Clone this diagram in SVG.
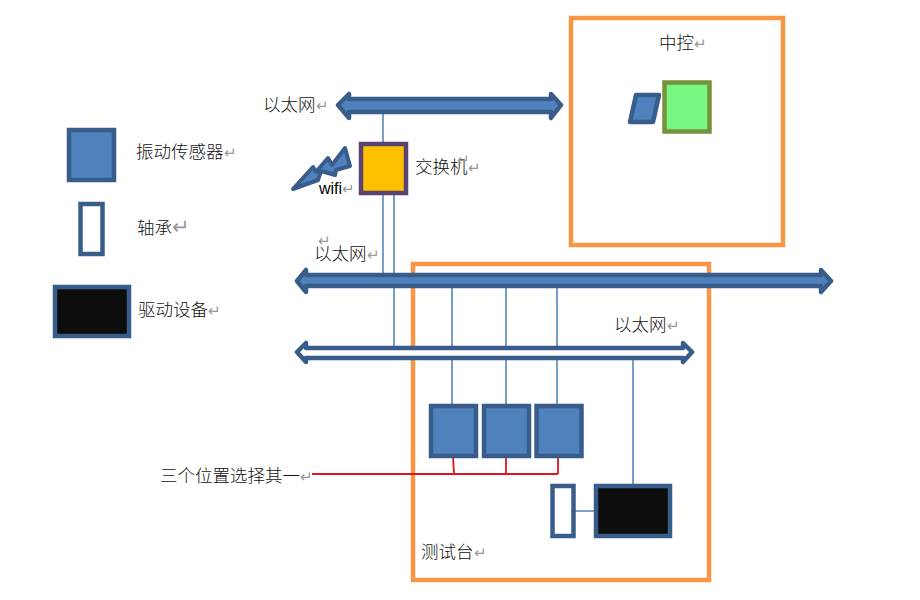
<svg xmlns="http://www.w3.org/2000/svg" width="920" height="600" viewBox="0 0 920 600">
<style>
text{font-family:"Noto Sans CJK SC","Noto Sans",sans-serif;font-size:17.5px;font-weight:300;fill:#111}
.pm{font-family:"DejaVu Sans",sans-serif;font-size:15px;fill:#999}
.zone{fill:none;stroke:#F79646;stroke-width:4.5}
.sensor{fill:#4F81BD;stroke:#385D8A;stroke-width:4.5}
.bearing{fill:#fff;stroke:#385D8A;stroke-width:4.5}
.drive{fill:#0D0D0D;stroke:#385D8A;stroke-width:4.5}
.bus{fill:#4F81BD;stroke:#385D8A;stroke-width:4.5;stroke-linejoin:round}
.hollow{fill:#fff;stroke:#385D8A;stroke-width:4.5;stroke-linejoin:round}
.link{fill:none;stroke:#5585BC;stroke-width:1.6}
.red{fill:none;stroke:#E0141E;stroke-width:1.8}
</style>
<rect width="920" height="600" fill="#fff"/>
<g id="zone-control"><rect class="zone" x="571" y="18" width="212" height="227"/></g>
<g id="zone-testbench"><rect class="zone" x="413" y="264" width="296" height="316"/></g>
<g id="connectors">
<path class="link" d="M383 112V144M383 193V275M394 193V348M452 286V406M506 286V406M557 286V406M633 358V486M574 511H596"/>
<path class="red" d="M312 474H558M453 456L454 474M506 456V474M558 456V474"/>
</g>
<g id="bus-top"><path class="bus" d="M338 105L349 94V99H551V94L561 105L551 118V112H349V118Z"/></g>
<g id="bus-mid"><path class="bus" d="M297 281L306 270V275H821V270L831 281L821 292V286H306V292Z"/></g>
<g id="bus-low"><path class="hollow" d="M297 352L306 343V348H683V343L692 352L683 362V358H306V362Z"/></g>
<g id="central"><path d="M636 95H659L653 122H630Z" fill="#4F81BD" stroke="#385D8A" stroke-width="4.5" stroke-linejoin="round"/><rect x="664.500" y="82.500" width="45" height="49" fill="#77F77F" stroke="#76923C" stroke-width="4.500"/></g>
<g id="wifi-bolt"><path d="M293 189L313 167L316 172L328 158L332 165L345 148L350 166L336 170L335 175L321 171L318 180Z" fill="#4F81BD" stroke="#385D8A" stroke-width="4" stroke-linejoin="round"/></g>
<g id="switch"><rect x="361" y="144" width="45" height="49" fill="#FFC000" stroke="#5A4372" stroke-width="4.500"/></g>
<g id="sensor-1"><rect class="sensor" x="431" y="406" width="45" height="50"/></g>
<g id="sensor-2"><rect class="sensor" x="484" y="406" width="45" height="50"/></g>
<g id="sensor-3"><rect class="sensor" x="536.500" y="406" width="45" height="50"/></g>
<g id="bearing"><rect class="bearing" x="552.500" y="486" width="21" height="50"/></g>
<g id="drive"><rect class="drive" x="596" y="486" width="74" height="50"/></g>
<g id="legend-sensor"><rect class="sensor" x="69" y="130" width="45" height="50"/><text x="136" y="158">振动传感器<tspan class="pm">↵</tspan></text></g>
<g id="legend-bearing"><rect class="bearing" x="80.500" y="204" width="22" height="50"/><text x="137" y="234">轴承<tspan class="pm" style="font-size:21px">↵</tspan></text></g>
<g id="legend-drive"><rect class="drive" x="55" y="287" width="74" height="49"/><text x="138" y="316">驱动设备<tspan class="pm">↵</tspan></text></g>
<g id="labels">
<text x="263" y="111">以太网<tspan class="pm">↵</tspan></text>
<text x="415" y="173">交换机<tspan class="pm">↵</tspan></text>
<text class="pm" x="457" y="165">↵</text>
<text x="319" y="194" style="font-family:'Liberation Sans',sans-serif;font-size:16px;font-weight:400;fill:#000">wifi<tspan class="pm">↵</tspan></text>
<text x="314" y="260">以太网<tspan class="pm">↵</tspan></text>
<text class="pm" x="318" y="246">↵</text>
<text x="614" y="331">以太网<tspan class="pm">↵</tspan></text>
<text x="659" y="49">中控<tspan class="pm">↵</tspan></text>
<text x="160" y="482">三个位置选择其一<tspan class="pm">↵</tspan></text>
<text x="421" y="558">测试台<tspan class="pm">↵</tspan></text>
</g>
</svg>
